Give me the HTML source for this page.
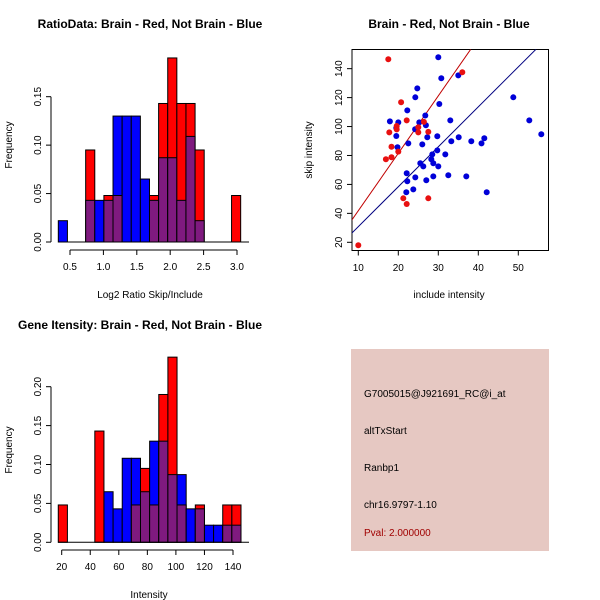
<!DOCTYPE html>
<html><head><meta charset="utf-8"><style>
html,body{margin:0;padding:0;background:#fff;}
svg{display:block;font-family:"Liberation Sans",Arial,sans-serif;}
</style></head><body>
<svg id="c" width="600" height="600" xmlns="http://www.w3.org/2000/svg">
<rect x="0" y="0" width="600" height="600" fill="#fff"/>
<text x="150" y="28" text-anchor="middle" font-size="12" font-weight="bold">RatioData: Brain - Red, Not Brain - Blue</text>
<text x="449" y="28" text-anchor="middle" font-size="12" font-weight="bold">Brain - Red, Not Brain - Blue</text>
<text x="140" y="329" text-anchor="middle" font-size="12" font-weight="bold">Gene Itensity: Brain - Red, Not Brain - Blue</text>
<text x="150" y="298" text-anchor="middle" font-size="10">Log2 Ratio Skip/Include</text>
<text x="12" y="145" text-anchor="middle" font-size="10" transform="rotate(-90 12 145)">Frequency</text>
<text x="449" y="298" text-anchor="middle" font-size="10">include intensity</text>
<text x="312" y="150" text-anchor="middle" font-size="10" transform="rotate(-90 312 150)">skip intensity</text>
<text x="149" y="598" text-anchor="middle" font-size="10">Intensity</text>
<text x="12" y="450" text-anchor="middle" font-size="10" transform="rotate(-90 12 450)">Frequency</text>
<g>
<rect x="351" y="349" width="198" height="202" fill="#e6c8c2"/>
<text x="364" y="397" font-size="10">G7005015@J921691_RC@i_at</text>
<text x="364" y="434" font-size="10">altTxStart</text>
<text x="364" y="471" font-size="10">Ranbp1</text>
<text x="364" y="508" font-size="10">chr16.9797-1.10</text>
<text x="364" y="536" font-size="10" fill="#a00000">Pval: 2.000000</text>
</g>
</svg>
<script>
// Ratio histogram
const ratioBlue=[0.022,0,0,0.043,0.043,0.043,0.13,0.13,0.13,0.065,0.043,0.087,0.087,0.043,0.109,0.022,0,0,0,0];
const ratioRed=[0,0,0,0.095,0,0.048,0.048,0,0,0,0.048,0.143,0.19,0.143,0.143,0.095,0,0,0,0.048];
const ratioXTicks=[0.5,1.0,1.5,2.0,2.5,3.0];
const ratioYTicks=[0.00,0.05,0.10,0.15];
// Intensity histogram
const intBlue=[0,0,0,0,0,0.065,0.043,0.108,0.108,0.065,0.13,0.13,0.087,0.087,0.043,0.043,0.022,0.022,0.022,0.022];
const intRed=[0.048,0,0,0,0.143,0,0,0,0.048,0.095,0.048,0.19,0.238,0.048,0,0.048,0,0,0.048,0.048];
const intXTicks=[20,40,60,80,100,120,140];
const intYTicks=[0.00,0.05,0.10,0.15,0.20];
// Scatter
const redX=[17.5,10,20.7,22.1,17.75,19.6,19.6,18.3,20,16.9,18.3,25,25,27.5,26.4,21.25,22.1,27.5,36];
const redY=[146.5,18,116.8,104.3,96,100.4,98,86,82.7,77.4,78.8,99.5,96,96.3,103.2,50.4,46.5,50.4,137.5];
const blueX=[30,30.75,35,24.75,24.25,30.25,22.25,26.75,17.9,20,25.25,33,26.9,19.5,19.5,24.2,27.25,29.75,35.1,19.8,22.5,26,33.25,38.25,40.8,41.5,29.75,31.75,28.5,28.25,28.75,25.5,26.25,30,22.1,24.25,22.25,28.75,32.5,37,27,23.75,22,42.1,48.75,52.75,55.75];
const blueY=[147.9,133.4,135.4,126.4,120.2,115.6,111.2,107.6,103.6,102.9,102.9,104.3,100.9,99,93.5,98.1,92.6,93.3,92.6,85.7,88.4,87.7,89.8,89.8,88.4,91.9,83.5,80.8,80.8,77.4,74.6,74.6,72.5,72.5,67.7,64.9,62.2,65.6,66.3,65.6,62.9,56.6,54.6,54.6,120.2,104.3,94.7];
const scatterXTicks=[10,20,30,40,50];
const scatterYTicks=[20,40,60,80,100,120,140];
const redLine=[3.97,2.1];   // slope, intercept
const blueLine=[2.76,3.2];

const svg=document.getElementById('c');
const NS='http://www.w3.org/2000/svg';
function mk(tag,attrs,parent){const e=document.createElementNS(NS,tag);for(const k in attrs)e.setAttribute(k,attrs[k]);(parent||svg).appendChild(e);return e;}
const RED='#ff0000',BLUE='#0000ff',PURP='#7f1a7f';

function hist(cfg){
  const g=mk('g',{});
  
  
  const n=cfg.blue.length;
  for(let i=0;i<n;i++){
    const x0=cfg.sx(cfg.start+i*cfg.w), x1=cfg.sx(cfg.start+(i+1)*cfg.w);
    const b=cfg.blue[i], r=cfg.red[i];
    const lo=Math.min(b,r), hi=Math.max(b,r);
    if(hi<=0)continue;
    const topCol = r>=b?RED:BLUE;
    const outer=mk('rect',{x:x0,y:cfg.sy(hi),width:x1-x0,height:cfg.sy(0)-cfg.sy(hi),fill:(lo>0?topCol:(r>0?RED:BLUE)),stroke:'#000','stroke-width':1},g);
    
    
    if(lo>0){
      const inner=mk('rect',{x:x0,y:cfg.sy(lo),width:x1-x0,height:cfg.sy(0)-cfg.sy(lo),fill:PURP,stroke:'#000','stroke-width':1},g);
      
      
    }
  }
  // baseline
  mk('line',{x1:cfg.baseX0,x2:cfg.baseX1,y1:cfg.sy(0),y2:cfg.sy(0),stroke:'#000'},g);
  // x axis
  const ax=mk('g',{},g);
  
  
  const ay=cfg.axisY;
  mk('line',{x1:cfg.sx(cfg.xt[0]),x2:cfg.sx(cfg.xt[cfg.xt.length-1]),y1:ay,y2:ay,stroke:'#000'},ax);
  cfg.xt.forEach(t=>{const x=cfg.sx(t);mk('line',{x1:x,x2:x,y1:ay,y2:ay+5,stroke:'#000'},ax);
    const tx=mk('text',{x:x,y:ay+20,'text-anchor':'middle','font-size':10},ax);tx.textContent=cfg.fx(t);});
  const ay2=mk('g',{},g);
  
  
  const axx=cfg.axisX;
  mk('line',{x1:axx,x2:axx,y1:cfg.sy(cfg.yt[0]),y2:cfg.sy(cfg.yt[cfg.yt.length-1]),stroke:'#000'},ay2);
  cfg.yt.forEach(t=>{const y=cfg.sy(t);mk('line',{x1:axx-5,x2:axx,y1:y,y2:y,stroke:'#000'},ay2);
    const tx=mk('text',{x:axx-10,y:y,'text-anchor':'middle','font-size':10,transform:`rotate(-90 ${axx-10} ${y})`},ay2);tx.textContent=t.toFixed(2);});
}

hist({name:'ratio-histogram',blue:ratioBlue,red:ratioRed,start:0.325,w:0.1365,
  sx:v=>70+(v-0.5)*66.8, sy:v=>242-v*968.7, xt:ratioXTicks, yt:ratioYTicks,
  fx:t=>t.toFixed(1), axisY:250, axisX:51, baseX0:58, baseX1:249});
hist({name:'intensity-histogram',blue:intBlue,red:intRed,start:17.6,w:6.4,
  sx:v=>61.7+(v-20)*1.4275, sy:v=>542.3-v*778, xt:intXTicks, yt:intYTicks,
  fx:t=>String(t), axisY:550, axisX:51, baseX0:58, baseX1:249});

// scatter
const sx=v=>358.3+(v-10)*4, sy=v=>242.3-(v-20)*1.447;
const sg=mk('g',{});


const clip=mk('clipPath',{id:'sc'},sg);mk('rect',{x:352,y:49.5,width:196.5,height:201},clip);
const box=mk('rect',{x:352,y:49.5,width:196.5,height:201,fill:'none',stroke:'#000'},sg);


function line(p,col,name){const l=mk('line',{x1:sx(5),y1:sy(p[0]*5+p[1]),x2:sx(60),y2:sy(p[0]*60+p[1]),stroke:col,'stroke-width':1,'clip-path':'url(#sc)'},sg);
  
  }
line(redLine,'#c00000','red-fit-line');
line(blueLine,'#000080','blue-fit-line');
blueX.forEach((x,i)=>{const c=mk('circle',{cx:sx(x),cy:sy(blueY[i]),r:3,fill:'#0000d8'},sg);
  
  });
redX.forEach((x,i)=>{const c=mk('circle',{cx:sx(x),cy:sy(redY[i]),r:3,fill:'#e81010'},sg);
  
  });
scatterXTicks.forEach(t=>{const x=sx(t);mk('line',{x1:x,x2:x,y1:250.5,y2:255.5,stroke:'#000'},sg);
  const tx=mk('text',{x:x,y:271,'text-anchor':'middle','font-size':10},sg);tx.textContent=t;
  
  });
scatterYTicks.forEach(t=>{const y=sy(t);mk('line',{x1:347,x2:352,y1:y,y2:y,stroke:'#000'},sg);
  const tx=mk('text',{x:342,y:y,'text-anchor':'middle','font-size':10,transform:`rotate(-90 342 ${y})`},sg);tx.textContent=t;
  
  });
</script>
</body></html>
